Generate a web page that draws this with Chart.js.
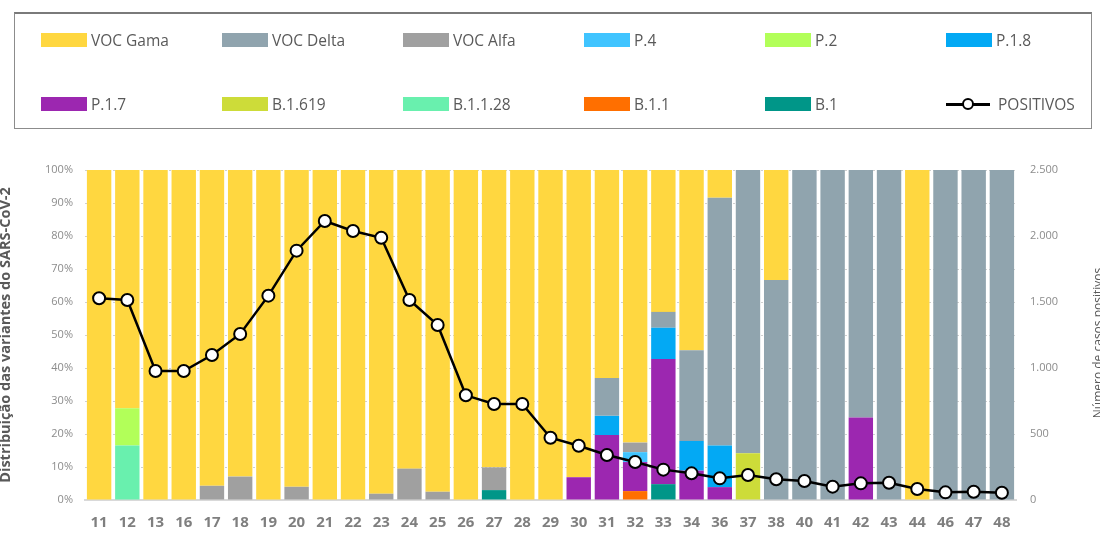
<!DOCTYPE html>
<html lang="pt">
<head>
<meta charset="utf-8">
<title>Variantes SARS-CoV-2</title>
<script src="https://cdn.jsdelivr.net/npm/chart.js@4.4.1/dist/chart.umd.min.js"></script>
<style>
  html, body { margin: 0; padding: 0; background: #fff; }
  #wrap { position: relative; width: 1100px; height: 534px; overflow: hidden; }
  #grafico { position: absolute; left: 0; top: 0; }
  #legenda {
    position: absolute; left: 14px; top: 12px; width: 1076px; height: 114px;
    border: 1px solid #8c8c8c; border-top: 2px solid #7a7a7a;
    font-family: "Open Sans", sans-serif; font-size: 15.5px; color: #595959;
  }
  .item { position: absolute; display: flex; align-items: center; height: 20px; white-space: nowrap; }
  .caixa { width: 46px; height: 14px; margin-right: 4px; }
  .linha { position: relative; width: 44px; height: 14px; margin-right: 8px; }
  .linha:before { content: ""; position: absolute; left: 0; right: 0; top: 6px; height: 2.5px; background: #000; }
  .linha:after { content: ""; position: absolute; left: 16px; top: 1px; width: 8px; height: 8px; border: 2px solid #000; border-radius: 50%; background: #fff; }
</style>
</head>
<body>
<div id="wrap">
  <canvas id="grafico" width="1100" height="534"></canvas>
  <div id="legenda"></div>
</div>
<script>
// semanas epidemiológicas
const semanas = ['11','12','13','16','17','18','19','20','21','22','23','24','25','26','27','28','29','30','31','32','33','34','36','37','38','40','41','42','43','44','46','47','48'];

// % de cada variante por semana (ordem de empilhamento: de baixo para cima)
const b1       = [0,0,0,0,0,0,0,0,0,0,0,0,0,0,3.0,0,0,0,0,0,4.8,0,0,0,0,0,0,0,0,0,0,0,0];
const b11      = [0,0,0,0,0,0,0,0,0,0,0,0,0,0,0,0,0,0,0,2.7,0,0,0,0,0,0,0,0,0,0,0,0,0];
const b1128    = [0,16.5,0,0,0,0,0,0,0,0,0,0,0,0,0,0,0,0,0,0,0,0,0,0,0,0,0,0,0,0,0,0,0];
const b1619    = [0,0,0,0,0,0,0,0,0,0,0,0,0,0,0,0,0,0,0,0,0,0,0,14.2,0,0,0,0,0,0,0,0,0];
const p17      = [0,0,0,0,0,0,0,0,0,0,0,0,0,0,0,0,0,6.9,19.7,8.8,37.9,8.9,3.9,0,0,0,0,25.0,0,0,0,0,0];
const p18      = [0,0,0,0,0,0,0,0,0,0,0,0,0,0,0,0,0,0,5.8,0,9.5,9.0,12.6,0,0,0,0,0,0,0,0,0,0];
const p2       = [0,11.3,0,0,0,0,0,0,0,0,0,0,0,0,0,0,0,0,0,0,0,0,0,0,0,0,0,0,0,0,0,0,0];
const p4       = [0,0,0,0,0,0,0,0,0,0,0,0,0,0,0,0,0,0,0,3.0,0,0,0,0,0,0,0,0,0,0,0,0,0];
const vocAlfa  = [0,0,0,0,4.3,7.1,0,4.0,0,0,1.9,9.5,2.5,0,6.9,0,0,0,0,2.9,0,0,0,0,0,0,0,0,0,0,0,0,0];
const vocDelta = [0,0,0,0,0,0,0,0,0,0,0,0,0,0,0,0,0,0,11.5,0,4.8,27.5,75.1,85.8,66.7,100,100,75.0,100,0,100,100,100];
const vocGama  = [100,72.2,100,100,95.7,92.9,100,96.0,100,100,98.1,90.5,97.5,100,90.1,100,100,93.1,63.0,82.6,43.0,54.6,8.4,0,33.3,0,0,0,0,100,0,0,0];

// número de casos positivos
const positivos = [1528,1515,977,977,1098,1258,1548,1889,2114,2038,1987,1515,1326,793,727,727,472,411,341,288,230,202,164,189,157,144,101,126,131,83,58,63,55];

const cinzaTexto = '#595959';

const barras = [
  ['B.1', b1, '#009688'],
  ['B.1.1', b11, '#FF6F00'],
  ['B.1.1.28', b1128, '#69F0AE'],
  ['B.1.619', b1619, '#CDDC39'],
  ['P.1.7', p17, '#9C27B0'],
  ['P.1.8', p18, '#03A9F4'],
  ['P.2', p2, '#B2FF59'],
  ['P.4', p4, '#40C4FF'],
  ['VOC Alfa', vocAlfa, '#A0A0A0'],
  ['VOC Delta', vocDelta, '#90A4AE'],
  ['VOC Gama', vocGama, '#FFD740']
];

const datasets = barras.map(([nome, valores, cor]) => ({
  type: 'bar',
  label: nome,
  data: valores,
  backgroundColor: cor,
  borderWidth: 0,
  yAxisID: 'y',
  order: 1,
  categoryPercentage: 0.865,
  barPercentage: 1
}));

datasets.push({
  type: 'line',
  label: 'POSITIVOS',
  data: positivos,
  yAxisID: 'y2',
  borderColor: '#000',
  borderWidth: 2.5,
  pointRadius: 6,
  pointBorderWidth: 2,
  pointBackgroundColor: '#fff',
  pointBorderColor: '#000',
  tension: 0,
  order: 0
});

// títulos dos eixos (rodados, como no original)
const titulosEixos = {
  id: 'titulosEixos',
  afterDraw(chart) {
    const ctx = chart.ctx;
    const meio = (chart.chartArea.top + chart.chartArea.bottom) / 2;
    ctx.save();
    ctx.fillStyle = cinzaTexto;
    ctx.textAlign = 'center';
    ctx.textBaseline = 'alphabetic';
    ctx.translate(9.5, meio);
    ctx.rotate(-Math.PI / 2);
    ctx.font = 'bold 14.5px "Open Sans"';
    ctx.fillText('Distribuição das variantes do SARS-CoV-2', 0, 0);
    ctx.restore();

    ctx.save();
    ctx.fillStyle = cinzaTexto;
    ctx.textAlign = 'center';
    ctx.textBaseline = 'alphabetic';
    ctx.translate(1102, meio + 8);
    ctx.rotate(-Math.PI / 2);
    ctx.font = '12px "Open Sans"';
    ctx.fillText('Número de casos positivos', 0, 0);
    ctx.restore();
  }
};

const milhares = v => String(v).replace(/\B(?=(\d{3})+(?!\d))/g, '.');

const grafico = new Chart(document.getElementById('grafico'), {
  data: { labels: semanas, datasets: datasets },
  options: {
    responsive: false,
    animation: false,
    layout: { padding: { top: 170, left: 0, right: 0, bottom: 0 } },
    plugins: {
      legend: { display: false },
      tooltip: { enabled: false }
    },
    scales: {
      x: {
        stacked: true,
        grid: { display: false, drawTicks: false },
        border: { display: true, color: '#d9d9d9', width: 2 },
        ticks: {
          padding: 14,
          color: '#7f7f7f',
          font: { family: 'Open Sans', size: 15, weight: 'bold' },
          maxRotation: 0,
          autoSkip: false
        },
        afterFit: s => { s.height = 34; }
      },
      y: {
        stacked: true,
        position: 'left',
        min: 0,
        max: 100,
        ticks: {
          stepSize: 10,
          padding: 12,
          color: '#8c8c8c',
          font: { family: 'Open Sans', size: 11 },
          callback: v => v + '%'
        },
        grid: { color: '#d0d0d0', drawTicks: false, lineWidth: 1 },
        border: { display: false, dash: [2, 2] },
        afterFit: s => { s.width = 85; }
      },
      y2: {
        position: 'right',
        min: 0,
        max: 2500,
        ticks: {
          stepSize: 500,
          padding: 14,
          color: '#8c8c8c',
          font: { family: 'Open Sans', size: 11 },
          callback: v => milhares(v)
        },
        grid: { display: false, drawTicks: false },
        border: { display: false },
        afterFit: s => { s.width = 84; }
      }
    }
  },
  plugins: [titulosEixos]
});

// legenda em HTML, seis colunas como no original
const legenda = document.getElementById('legenda');
const itens = barras.slice().reverse().map(([nome, , cor]) => ({ nome, cor }));
itens.push({ nome: 'POSITIVOS', cor: null });
itens.forEach((it, i) => {
  const col = i % 6, lin = Math.floor(i / 6);
  const el = document.createElement('div');
  el.className = 'item';
  el.style.left = (26 + col * 181) + 'px';
  el.style.top = (16 + lin * 64) + 'px';
  const marca = document.createElement('span');
  if (it.cor) { marca.className = 'caixa'; marca.style.background = it.cor; }
  else { marca.className = 'linha'; }
  el.appendChild(marca);
  el.appendChild(document.createTextNode(it.nome));
  legenda.appendChild(el);
});
</script>
</body>
</html>
